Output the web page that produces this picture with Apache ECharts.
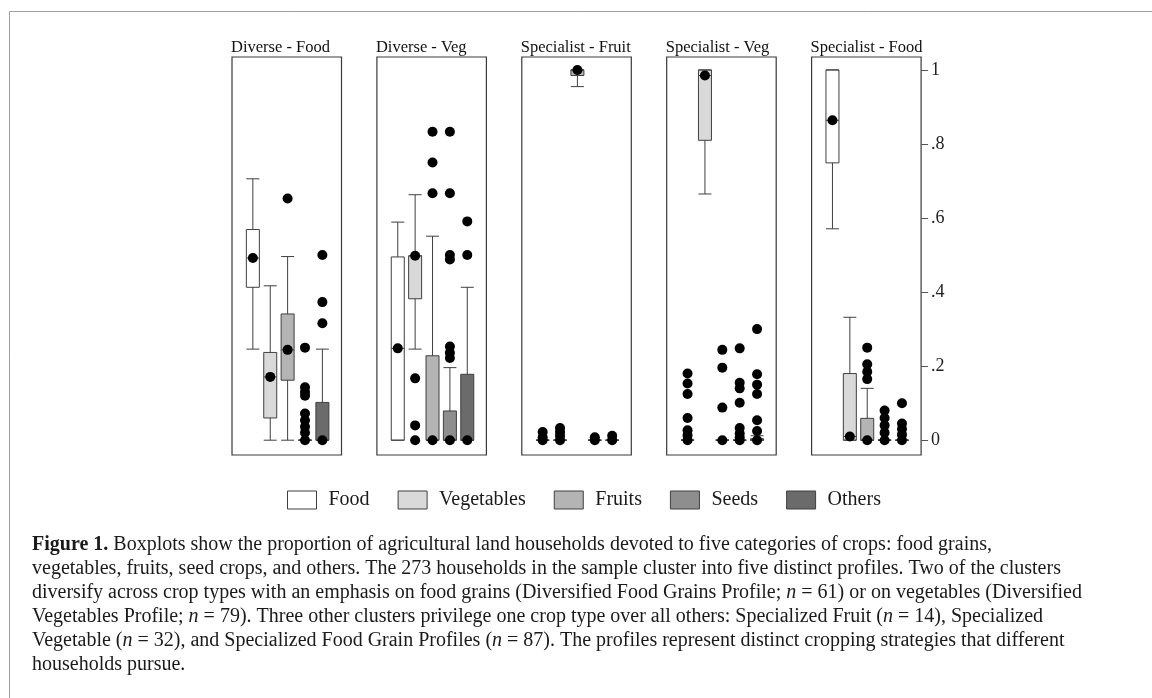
<!DOCTYPE html>
<html><head><meta charset="utf-8">
<script src="https://cdn.jsdelivr.net/npm/echarts@6/dist/echarts.min.js"></script>
<style>html,body{margin:0;padding:0;background:#fff}#chart{width:1152px;height:698px}</style>
</head><body><div id="chart"></div>
<script>
// ---------- data ----------
const panelTitles = ['Diverse - Food', 'Diverse - Veg', 'Specialist - Fruit', 'Specialist - Veg', 'Specialist - Food'];
const cropTypes = ['Food', 'Vegetables', 'Fruits', 'Seeds', 'Others'];
const cropColors = ['#ffffff', '#d9d9d9', '#b4b4b4', '#8e8e8e', '#6b6b6b'];
const yTickValues = [0, 0.2, 0.4, 0.6, 0.8, 1];
const yTickLabels = ['0', '.2', '.4', '.6', '.8', '1'];

// box statistics per crop: [lower whisker, Q1, median, Q3, upper whisker]
const boxDiverseFood = [[0.246, 0.413, 0.492, 0.569, 0.706], [0, 0.06, 0.171, 0.237, 0.417], [0, 0.162, 0.244, 0.341, 0.496], [0, 0, 0, 0, 0], [0, 0, 0, 0.102, 0.246]];
const boxDiverseVeg = [[0, 0, 0.248, 0.495, 0.589], [0.246, 0.382, 0.498, 0.498, 0.663], [0, 0, 0, 0.228, 0.551], [0, 0, 0, 0.079, 0.196], [0, 0, 0, 0.178, 0.413]];
const boxSpecFruit = [[0, 0, 0, 0, 0], [0, 0, 0, 0, 0], [0.955, 0.985, 1.0, 1.0, 1.0], [0, 0, 0, 0, 0], [0, 0, 0, 0, 0]];
const boxSpecVeg = [[0, 0, 0, 0, 0], [0.665, 0.81, 0.985, 1.0, 1.0], [0, 0, 0, 0, 0], [0, 0, 0, 0, 0], [0, 0, 0, 0.004, 0.012]];
const boxSpecFood = [[0.571, 0.749, 0.864, 1.0, 1.0], [0, 0, 0.01, 0.18, 0.332], [0, 0, 0, 0.059, 0.14], [0, 0, 0, 0, 0], [0, 0, 0, 0, 0]];

// outside values per crop
const outDiverseFood = [[], [], [0.653], [0.25, 0.143, 0.13, 0.12, 0.072, 0.054, 0.036, 0.02], [0.5, 0.373, 0.316]];
const outDiverseVeg = [[], [0.167, 0.04, 0], [0.833, 0.75, 0.667], [0.833, 0.667, 0.5, 0.488, 0.253, 0.236, 0.222], [0.591, 0.5]];
const outSpecFruit = [[0.022, 0.008], [0.033, 0.022, 0.011], [], [0.008], [0.012]];
const outSpecVeg = [[0.18, 0.153, 0.125, 0.06, 0.027, 0.013], [], [0.244, 0.196, 0.088], [0.248, 0.155, 0.14, 0.101, 0.033, 0.018, 0.008], [0.3, 0.178, 0.15, 0.125, 0.054, 0.025]];
const outSpecFood = [[], [], [0.25, 0.205, 0.185, 0.165], [0.08, 0.06, 0.04, 0.02], [0.1, 0.045, 0.03, 0.015]];

const captionLines = [
  '{b|Figure 1.} Boxplots show the proportion of agricultural land households devoted to five categories of crops: food grains,',
  'vegetables, fruits, seed crops, and others. The 273 households in the sample cluster into five distinct profiles. Two of the clusters',
  'diversify across crop types with an emphasis on food grains (Diversified Food Grains Profile; {i|n} = 61) or on vegetables (Diversified',
  'Vegetables Profile; {i|n} = 79). Three other clusters privilege one crop type over all others: Specialized Fruit ({i|n} = 14), Specialized',
  'Vegetable ({i|n} = 32), and Specialized Food Grain Profiles ({i|n} = 87). The profiles represent distinct cropping strategies that different',
  'households pursue.'
];

// ---------- layout ----------
const boxes = [boxDiverseFood, boxDiverseVeg, boxSpecFruit, boxSpecVeg, boxSpecFood];
const outs = [outDiverseFood, outDiverseVeg, outSpecFruit, outSpecVeg, outSpecFood];
const SERIF = '"Liberation Serif", "DejaVu Serif", serif';
const panelLeft = k => 232 + k * 144.9;
const panelW = 109.5, panelTop = 57, panelBottom = 455;
const yMin = -0.04, yMax = 1.035;
const ppu = (panelBottom - panelTop) / (yMax - yMin);

const grids = [], xAxes = [], yAxes = [], titles = [], series = [];
panelTitles.forEach((t, k) => {
  grids.push({left: panelLeft(k), top: panelTop, width: panelW, height: panelBottom - panelTop,
    show: true, borderColor: '#3a3a3a', borderWidth: 1.2, backgroundColor: '#fff'});
  xAxes.push({type: 'value', gridIndex: k, min: -1.2, max: 5.1, show: false});
  yAxes.push({type: 'value', gridIndex: k, min: yMin, max: yMax, show: false});
  titles.push({text: t, left: panelLeft(k) - 1, top: 40, padding: 0,
    textStyle: {fontFamily: SERIF, fontSize: 16.5, fontWeight: 'normal', color: '#111', lineHeight: 16}});
  series.push({type: 'boxplot', name: 'box' + k, xAxisIndex: k, yAxisIndex: k, boxWidth: [13, 13], silent: true,
    itemStyle: {color: '#fff', borderColor: '#3f3f3f', borderWidth: 1}, z: 2,
    data: cropTypes.map((c, i) => ({value: [i].concat(boxes[k][i]),
      itemStyle: {color: cropColors[i], borderColor: '#3f3f3f', borderWidth: 1}}))});
  series.push({type: 'scatter', name: 'median', xAxisIndex: k, yAxisIndex: k, symbolSize: 10, silent: true,
    itemStyle: {color: '#000', opacity: 1}, z: 3,
    data: boxes[k].map((b, i) => [i, b[2]])});
  const pts = [];
  outs[k].forEach((arr, i) => arr.forEach(v => pts.push([i, v])));
  series.push({type: 'scatter', name: 'outside', xAxisIndex: k, yAxisIndex: k, symbolSize: 10, silent: true,
    itemStyle: {color: '#000', opacity: 1}, z: 3, data: pts});
});

// overlay grid carrying the shared y scale (0..1) on the right of the last panel
const lastLeft = panelLeft(panelTitles.length - 1);
grids.push({left: lastLeft, width: panelW, top: panelBottom - (0 - yMin) * ppu - ppu, height: ppu, show: false});
xAxes.push({type: 'value', gridIndex: 5, min: 0, max: 1, show: false});
yAxes.push({type: 'value', gridIndex: 5, min: 0, max: 1, interval: 0.2, position: 'right', show: true,
  axisLine: {show: false, onZero: false}, splitLine: {show: false},
  axisTick: {show: true, inside: false, length: 7, lineStyle: {color: '#555', width: 1}},
  axisLabel: {show: true, margin: 10,
    formatter: v => yTickLabels[yTickValues.findIndex(x => Math.abs(x - v) < 1e-9)] ?? '',
    fontFamily: SERIF, fontSize: 18, color: '#222'}});

// legend entries (no marks of their own)
cropTypes.forEach((c, i) => {
  series.push({type: 'scatter', name: c, xAxisIndex: 5, yAxisIndex: 5, data: [], itemStyle: {color: cropColors[i], opacity: 1}});
});

const graphics = [
  {type: 'rect', shape: {x: 9.5, y: 11.5, width: 1200, height: 800}, style: {fill: 'none', stroke: '#a0a0a0', lineWidth: 1}, silent: true, z: -10}
];
captionLines.forEach((line, j) => {
  graphics.push({type: 'text', x: 32, y: 533 + j * 24, silent: true,
    style: {text: line, fontFamily: SERIF, fontSize: 20, fill: '#1a1a1a', lineHeight: 24, verticalAlign: 'top',
      rich: {b: {fontFamily: SERIF, fontSize: 20, fontWeight: 'bold', fill: '#1a1a1a', lineHeight: 24},
             i: {fontFamily: SERIF, fontSize: 20, fontStyle: 'italic', fill: '#1a1a1a', lineHeight: 24}}}});
});

const chart = echarts.init(document.getElementById('chart'), null, {renderer: 'canvas'});
chart.setOption({
  animation: false,
  backgroundColor: '#fff',
  title: titles,
  grid: grids,
  xAxis: xAxes,
  yAxis: yAxes,
  legend: {
    show: true, left: 282, top: 485, itemWidth: 29, itemHeight: 18, itemGap: 28, selectedMode: false,
    icon: 'rect',
    textStyle: {fontFamily: SERIF, fontSize: 20, color: '#1a1a1a', padding: [0, 0, 0, 7]},
    data: cropTypes.map((c, i) => ({name: c, icon: 'rect',
      itemStyle: {color: cropColors[i], opacity: 1, borderColor: '#3f3f3f', borderWidth: 1}}))
  },
  tooltip: {show: false},
  series: series,
  graphic: graphics
});
</script></body></html>
